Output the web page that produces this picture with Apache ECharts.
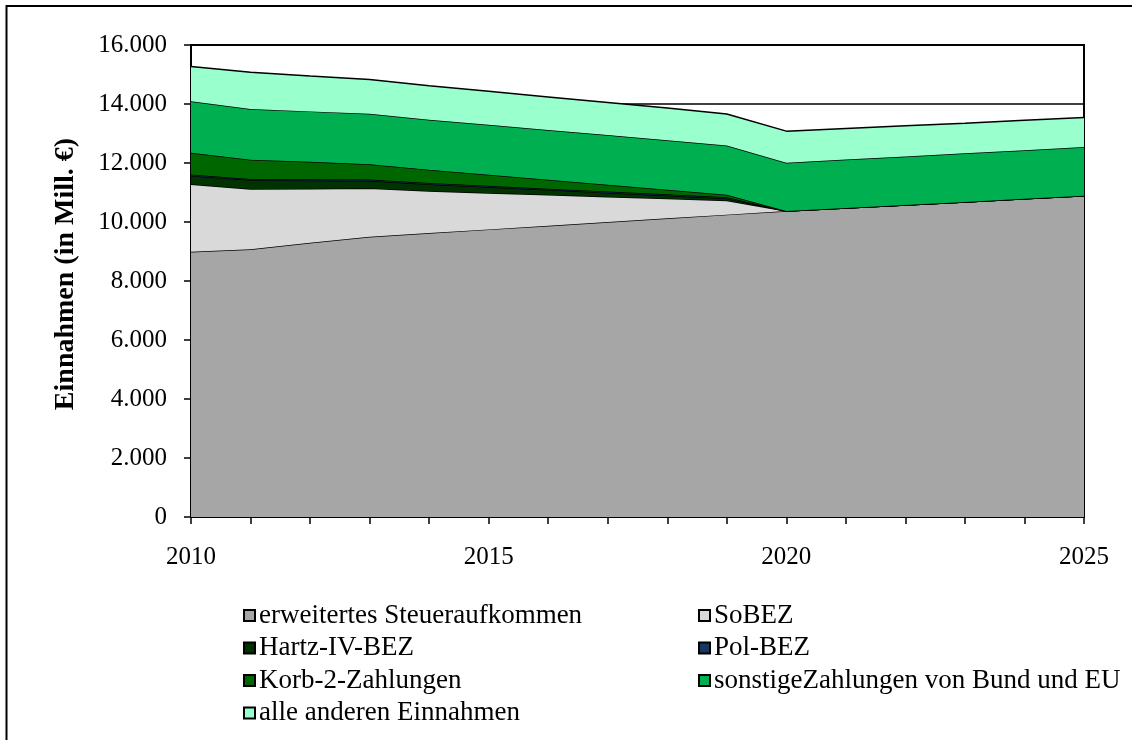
<!DOCTYPE html>
<html>
<head>
<meta charset="utf-8">
<script src="https://cdn.jsdelivr.net/npm/echarts@6/dist/echarts.min.js"></script>
<style>html,body{margin:0;padding:0;background:#fff}#c{width:1132px;height:740px}</style>
</head>
<body>
<div id="c"></div>
<script>
var years = ['2010','2011','2012','2013','2014','2015','2016','2017','2018','2019','2020','2021','2022','2023','2024','2025'];
var steuer   = [8990, 9080, 9300, 9500, 9625, 9750, 9875, 10000, 10125, 10250, 10370, 10474, 10578, 10682, 10786, 10890];
var sobez    = [2290, 2040, 1830, 1640, 1425, 1230, 1045, 860, 675, 480, 0, 0, 0, 0, 0, 0];
var hartz    = [290, 300, 280, 260, 230, 205, 170, 135, 100, 70, 0, 0, 0, 0, 0, 0];
var pol      = [40, 40, 40, 40, 40, 40, 40, 40, 40, 40, 0, 0, 0, 0, 0, 0];
var korb     = [740, 650, 590, 520, 447, 374, 300, 227, 153, 80, 0, 0, 0, 0, 0, 0];
var sonstige = [1740, 1720, 1710, 1710, 1703, 1697, 1690, 1683, 1677, 1670, 1640, 1642, 1644, 1646, 1648, 1650];
var andere   = [1180, 1250, 1200, 1160, 1147, 1133, 1120, 1107, 1093, 1070, 1070, 1054, 1038, 1022, 1016, 1000];
var limit    = [14000, 14000, 14000, 14000, 14000, 14000, 14000, 14000, 14000, 14000, 14000, 14000, 14000, 14000, 14000, 14000];
var yTicks = ['0','2.000','4.000','6.000','8.000','10.000','12.000','14.000','16.000'];

var names = ['erweitertes Steueraufkommen','SoBEZ','Hartz-IV-BEZ','Pol-BEZ','Korb-2-Zahlungen','sonstigeZahlungen von Bund und EU','alle anderen Einnahmen'];
var colors = ['#A6A6A6','#D9D9D9','#003300','#17375E','#006600','#00B050','#99FFCC'];
var datas = [steuer, sobez, hartz, pol, korb, sonstige, andere];
var font = '"Liberation Serif","Times New Roman",serif';
var fs = 25;

var series = [{
  name: 'limit', type: 'line', data: limit, z: 1, symbol: 'none', silent: true,
  lineStyle: {color: '#000', width: 1.5}
}];
names.forEach(function(n, i){
  series.push({
    name: n, type: 'line', stack: 'total', data: datas[i], z: 2 + i,
    symbol: 'none', showSymbol: false,
    lineStyle: {color: '#000', width: 1.5},
    itemStyle: {color: colors[i], borderColor: '#000', borderWidth: 1},
    areaStyle: {color: colors[i], opacity: 1}
  });
});

var legendText = {fontFamily: font, fontSize: 27, color: '#000', lineHeight: 27, padding: [0,0,0,-1]};
var chart = echarts.init(document.getElementById('c'), null, {renderer: 'canvas'});
chart.setOption({
  animation: false,
  backgroundColor: '#fff',
  graphic: [{type: 'rect', shape: {x: 6.5, y: 6, width: 1200, height: 800}, style: {fill: 'none', stroke: '#000', lineWidth: 2}, z: 0}],
  grid: {left: 191, right: 48, top: 45, bottom: 223, show: true, borderColor: '#000', borderWidth: 2, backgroundColor: 'transparent'},
  legend: [{
    left: 238, top: 597, orient: 'vertical', itemWidth: 11, itemHeight: 11, itemGap: 5.5,
    data: [names[0], names[2], names[4], names[6]],
    textStyle: legendText, icon: 'rect'
  }, {
    left: 693, top: 597, orient: 'vertical', itemWidth: 11, itemHeight: 11, itemGap: 5.5,
    data: [names[1], names[3], names[5]],
    textStyle: legendText, icon: 'rect'
  }],
  xAxis: {
    type: 'category', data: years, boundaryGap: false,
    axisLine: {lineStyle: {color: '#000', width: 2}},
    axisTick: {show: true, interval: 0, length: 7, lineStyle: {color: '#000', width: 1.5}},
    axisLabel: {interval: 4, margin: 28, fontFamily: font, fontSize: fs, color: '#000'},
    splitLine: {show: false}
  },
  yAxis: {
    type: 'value', min: 0, max: 16000, interval: 2000,
    name: 'Einnahmen (in Mill. €)', nameLocation: 'middle', nameGap: 111,
    nameTextStyle: {fontFamily: font, fontSize: 28, fontWeight: 'bold', color: '#000', padding: [0,0,0,14]},
    axisLine: {show: true, lineStyle: {color: '#000', width: 2}},
    axisTick: {show: true, length: 7, lineStyle: {color: '#000', width: 1.5}},
    axisLabel: {margin: 24, fontFamily: font, fontSize: fs, color: '#000',
      formatter: function(v){ return yTicks[Math.round(v/2000)]; }},
    splitLine: {show: false}
  },
  series: series
});
</script>
</body>
</html>
